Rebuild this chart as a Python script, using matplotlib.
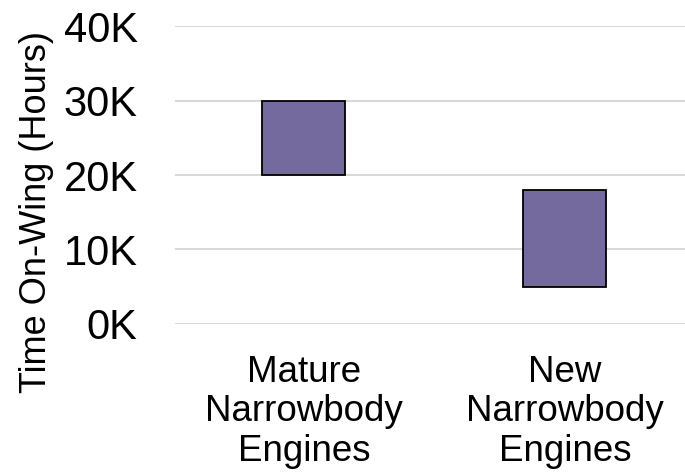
import matplotlib.pyplot as plt

plt.rcParams["font.family"] = ["Liberation Sans", "DejaVu Sans"]

# floating bars: each engine group spans a low-high range of time on wing
categories = ["Mature\nNarrowbody\nEngines", "New\nNarrowbody\nEngines"]
range_low = [20000, 5000]
range_high = [30000, 18000]
y_ticks = [0, 10000, 20000, 30000, 40000]
y_tick_labels = ["0K", "10K", "20K", "30K", "40K"]

BAR_COLOR = "#756a9e"
GRID_COLOR = "#d9d9d9"

fig = plt.figure(figsize=(6.85, 4.75), dpi=100)
ax = fig.add_axes([0.2555, 0.318, 0.7445, 0.627])

x = list(range(len(categories)))
heights = [h - l for l, h in zip(range_low, range_high)]
ax.bar(x, heights, bottom=range_low, width=0.318, color=BAR_COLOR,
       edgecolor="black", linewidth=1.3, zorder=3)

ax.set_ylim(0, 40000)
ax.set_xlim(-0.494, 1.46)
ax.set_yticks(y_ticks)
ax.set_yticklabels(y_tick_labels)
ax.set_xticks(x)
ax.set_xticklabels(categories, linespacing=1.17)

ax.yaxis.grid(True, color=GRID_COLOR, linewidth=1.5, zorder=0)
for side in ["top", "right", "bottom", "left"]:
    ax.spines[side].set_visible(False)

ax.tick_params(axis="y", length=0, pad=27, labelsize=30)
ax.tick_params(axis="x", length=0, pad=22, labelsize=26.5)
ax.set_ylabel("Time On-Wing (Hours)", fontsize=26)
# label sits lower than the axis centre, spanning down into the tick area
ax.yaxis.set_label_coords(-0.238, 0.376)

fig.savefig("out.png", dpi=100)
